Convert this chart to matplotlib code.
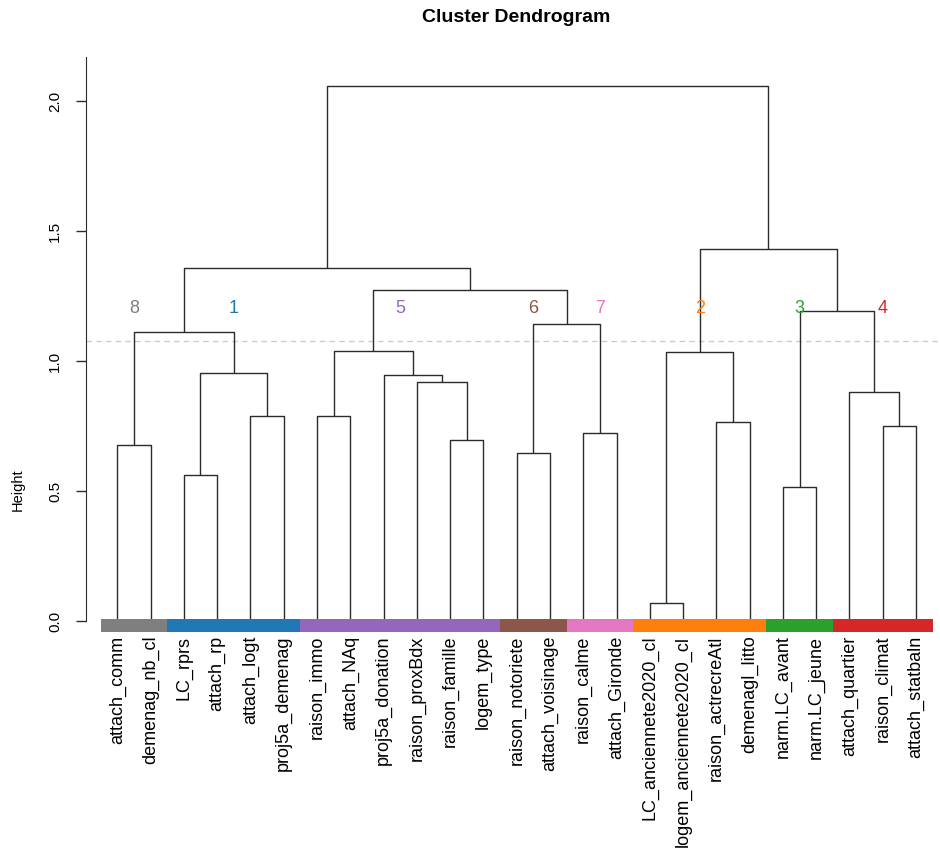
import matplotlib.pyplot as plt
from matplotlib.patches import Rectangle

plt.rcParams['font.family'] = ['Liberation Sans', 'DejaVu Sans']

# leaf labels in dendrogram order
leaves = [
    "attach_comm", "demenag_nb_cl", "LC_rprs", "attach_rp", "attach_logt",
    "proj5a_demenag", "raison_immo", "attach_NAq", "proj5a_donation",
    "raison_proxBdx", "raison_famille", "logem_type", "raison_notoriete",
    "attach_voisinage", "raison_calme", "attach_Gironde", "LC_anciennete2020_cl",
    "logem_anciennete2020_cl", "raison_actrecreAtl", "demenagl_litto",
    "narm.LC_avant", "narm.LC_jeune", "attach_quartier", "raison_climat",
    "attach_statbaln",
]

# hclust-style merge table: negative = leaf (1-based), positive = earlier merge step
merge_a = [-17, -21, -3, -13, -1, -11, -15, -24, -19, -5, -7, -23, -10, -9,
           3, 1, 11, 5, 4, 2, 17, 18, 16, 22]
merge_b = [-18, -22, -4, -14, -2, -12, -16, -25, -20, -6, -8, 8, 6, 13,
           10, 9, 14, 15, 7, 12, 19, 21, 20, 23]
heights = [0.071, 0.515, 0.560, 0.647, 0.677, 0.696, 0.724, 0.751, 0.767,
           0.790, 0.787, 0.882, 0.920, 0.946, 0.952, 1.036, 1.037, 1.111,
           1.141, 1.193, 1.273, 1.357, 1.430, 2.057]

cut_height = 1.077

cluster_of_leaf = [8, 8, 1, 1, 1, 1, 5, 5, 5, 5, 5, 5, 6, 6, 7, 7,
                   2, 2, 2, 2, 3, 3, 4, 4, 4]
cluster_colors = {
    1: "#1f77b4", 2: "#ff7f0e", 3: "#2ca02c", 4: "#d62728",
    5: "#9467bd", 6: "#8c564b", 7: "#e377c2", 8: "#7f7f7f",
}

W, H = 940, 849
fig = plt.figure(figsize=(W / 100, H / 100), dpi=100)
ax_left, ax_right, ax_top, ax_bottom = 86, 940, 57, 640
ax = fig.add_axes([ax_left / W, 1 - ax_bottom / H,
                   (ax_right - ax_left) / W, (ax_bottom - ax_top) / H])

line_kw = dict(color="#2b2b2b", lw=1.0, solid_capstyle="butt")


def node_pos(ref, xs, hs):
    if ref < 0:
        return -ref, 0.0
    return xs[ref - 1], hs[ref - 1]


node_x, node_h = [], []
for a, b, h in zip(merge_a, merge_b, heights):
    xa, ha = node_pos(a, node_x, node_h)
    xb, hb = node_pos(b, node_x, node_h)
    ax.plot([xa, xa, xb, xb], [ha, h, h, hb], **line_kw)
    node_x.append((xa + xb) / 2)
    node_h.append(h)

# cut line
ax.axhline(cut_height, color="#cccccc", lw=1.0, ls=(0, (4, 3)), zorder=0)

# coloured cluster strip and labels
n = len(leaves)
for i, c in enumerate(cluster_of_leaf):
    ax.add_patch(Rectangle((i + 0.5, -0.042), 1.0, 0.049,
                           facecolor=cluster_colors[c], edgecolor="none",
                           zorder=3, clip_on=False))
for c in sorted(set(cluster_of_leaf)):
    idx = [i + 1 for i, k in enumerate(cluster_of_leaf) if k == c]
    cx = (min(idx) + max(idx)) / 2
    ax.text(cx, 1.2, str(c), color=cluster_colors[c], fontsize=13,
            ha="center", va="center")

for i, name in enumerate(leaves):
    ax.text(i + 1, -0.056, name, rotation=90, ha="center", va="top",
            fontsize=13, clip_on=False)

ax.set_xlim(0.06, 25.72)
ax.set_ylim(-0.073, 2.169)
for s in ["top", "right", "bottom"]:
    ax.spines[s].set_visible(False)
ax.spines["left"].set_bounds(0, 2.169)
ax.spines["left"].set_color("#2b2b2b")
ax.set_xticks([])
ax.set_yticks([0.0, 0.5, 1.0, 1.5, 2.0])
ax.set_yticklabels(["0.0", "0.5", "1.0", "1.5", "2.0"], rotation=90, va="center")
ax.tick_params(axis="y", length=7.2, width=1.0, labelsize=11, pad=10,
               color="#2b2b2b")

fig.text(18 / W, 1 - 490 / H, "Height", rotation=90, ha="center", va="center",
         fontsize=10.5)
fig.text(516 / W, 1 - 17 / H, "Cluster Dendrogram", ha="center", va="center",
         fontsize=14, fontweight="bold")

fig.savefig("out.png", dpi=100)
